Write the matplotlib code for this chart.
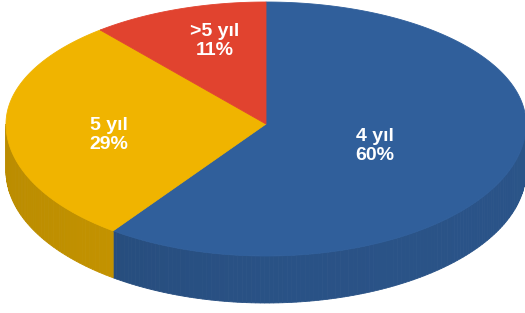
import numpy as np
import matplotlib.pyplot as plt
import matplotlib.colors as mcolors
from matplotlib.patches import Polygon

# data
labels = ['4 yıl', '5 yıl', '>5 yıl']
shares = [60, 29, 11]
colors = ['#305F9B', '#F0B400', '#E1432F']

# layout (pixels)
W, H = 525, 313
cx, cy = 266, 124
rx, ry_back, ry_front = 260, 122, 132
depth = 47
label_xy = [(375, 146), (109, 135), (215, 41)]


def rim(theta):
    # theta in degrees, clockwise from 12 o'clock
    t = np.radians(theta)
    x = cx + rx * np.sin(t)
    c = -np.cos(t)
    y = cy + np.where(c > 0, ry_front, ry_back) * c
    return x, y


def shade(color, theta):
    # side walls: a bit darker, darkest toward the left edge
    s = np.sin(np.radians(theta))
    f = 0.86 - 0.08 * max(0.0, -s) + 0.02 * max(0.0, s)
    r, g, b = mcolors.to_rgb(color)
    return (r * f, g * f, b * f)


fig = plt.figure(figsize=(W / 100, H / 100), dpi=100)
ax = fig.add_axes([0, 0, 1, 1])
ax.set_xlim(0, W)
ax.set_ylim(H, 0)
ax.axis('off')

total = sum(shares)
start = 0.0
for lab, val, col, (lx, ly) in zip(labels, shares, colors, label_xy):
    end = start + 360.0 * val / total

    # side wall, only the front half is visible
    a0, a1 = max(start, 90.0), min(end, 270.0)
    if a1 > a0:
        steps = np.linspace(a0, a1, int((a1 - a0) / 1.0) + 2)
        for t0, t1 in zip(steps[:-1], steps[1:]):
            xs, ys = rim(np.array([t0, t1]))
            pts = [(xs[0], ys[0]), (xs[1], ys[1]),
                   (xs[1], ys[1] + depth), (xs[0], ys[0] + depth)]
            c = shade(col, (t0 + t1) / 2)
            ax.add_patch(Polygon(pts, closed=True, facecolor=c,
                                 edgecolor=c, linewidth=0.6))

    # top face
    th = np.linspace(start, end, 200)
    xs, ys = rim(th)
    pts = [(cx, cy)] + list(zip(xs, ys))
    ax.add_patch(Polygon(pts, closed=True, facecolor=col,
                         edgecolor=col, linewidth=0.6, zorder=3))

    pct = round(100.0 * val / total)
    ax.text(lx, ly, f'{lab}\n{pct}%', ha='center', va='center',
            color='white', fontsize=14, fontweight='bold',
            family='Liberation Sans', linespacing=1.2, zorder=5)
    start = end

fig.savefig('out.png', dpi=100)
